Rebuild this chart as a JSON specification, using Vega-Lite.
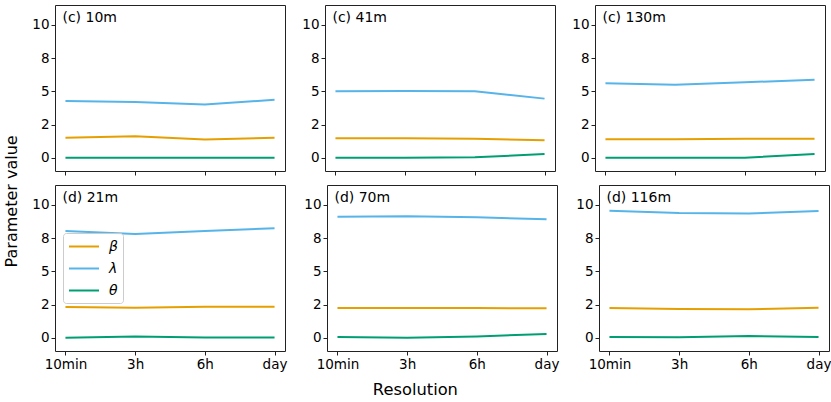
{
  "$schema": "https://vega.github.io/schema/vega-lite/v6.json",
  "padding": {"left": 4, "top": 4, "right": 2, "bottom": 2},
  "title": {"text": "Parameter value", "orient": "left", "anchor": "middle", "fontSize": 16, "fontWeight": "normal", "offset": 11, "color": "#000"},
  "datasets": {
    "params": [
      {"panel": "(c) 10m", "row": 1, "res": "10min", "param": "β", "value": 1.51},
      {"panel": "(c) 10m", "row": 1, "res": "3h", "param": "β", "value": 1.61},
      {"panel": "(c) 10m", "row": 1, "res": "6h", "param": "β", "value": 1.38},
      {"panel": "(c) 10m", "row": 1, "res": "day", "param": "β", "value": 1.51},
      {"panel": "(c) 10m", "row": 1, "res": "10min", "param": "λ", "value": 4.27},
      {"panel": "(c) 10m", "row": 1, "res": "3h", "param": "λ", "value": 4.2},
      {"panel": "(c) 10m", "row": 1, "res": "6h", "param": "λ", "value": 4.0},
      {"panel": "(c) 10m", "row": 1, "res": "day", "param": "λ", "value": 4.37},
      {"panel": "(c) 10m", "row": 1, "res": "10min", "param": "θ", "value": 0.0},
      {"panel": "(c) 10m", "row": 1, "res": "3h", "param": "θ", "value": 0.0},
      {"panel": "(c) 10m", "row": 1, "res": "6h", "param": "θ", "value": 0.0},
      {"panel": "(c) 10m", "row": 1, "res": "day", "param": "θ", "value": 0.0},
      {"panel": "(c) 41m", "row": 1, "res": "10min", "param": "β", "value": 1.46},
      {"panel": "(c) 41m", "row": 1, "res": "3h", "param": "β", "value": 1.46},
      {"panel": "(c) 41m", "row": 1, "res": "6h", "param": "β", "value": 1.42},
      {"panel": "(c) 41m", "row": 1, "res": "day", "param": "β", "value": 1.31},
      {"panel": "(c) 41m", "row": 1, "res": "10min", "param": "λ", "value": 5.0},
      {"panel": "(c) 41m", "row": 1, "res": "3h", "param": "λ", "value": 5.03},
      {"panel": "(c) 41m", "row": 1, "res": "6h", "param": "λ", "value": 5.0},
      {"panel": "(c) 41m", "row": 1, "res": "day", "param": "λ", "value": 4.45},
      {"panel": "(c) 41m", "row": 1, "res": "10min", "param": "θ", "value": 0.0},
      {"panel": "(c) 41m", "row": 1, "res": "3h", "param": "θ", "value": 0.0},
      {"panel": "(c) 41m", "row": 1, "res": "6h", "param": "θ", "value": 0.03},
      {"panel": "(c) 41m", "row": 1, "res": "day", "param": "θ", "value": 0.28},
      {"panel": "(c) 130m", "row": 1, "res": "10min", "param": "β", "value": 1.39},
      {"panel": "(c) 130m", "row": 1, "res": "3h", "param": "β", "value": 1.39},
      {"panel": "(c) 130m", "row": 1, "res": "6h", "param": "β", "value": 1.42},
      {"panel": "(c) 130m", "row": 1, "res": "day", "param": "β", "value": 1.42},
      {"panel": "(c) 130m", "row": 1, "res": "10min", "param": "λ", "value": 5.6},
      {"panel": "(c) 130m", "row": 1, "res": "3h", "param": "λ", "value": 5.5},
      {"panel": "(c) 130m", "row": 1, "res": "6h", "param": "λ", "value": 5.68},
      {"panel": "(c) 130m", "row": 1, "res": "day", "param": "λ", "value": 5.88},
      {"panel": "(c) 130m", "row": 1, "res": "10min", "param": "θ", "value": 0.0},
      {"panel": "(c) 130m", "row": 1, "res": "3h", "param": "θ", "value": 0.0},
      {"panel": "(c) 130m", "row": 1, "res": "6h", "param": "θ", "value": 0.0},
      {"panel": "(c) 130m", "row": 1, "res": "day", "param": "θ", "value": 0.28},
      {"panel": "(d) 21m", "row": 2, "res": "10min", "param": "β", "value": 2.31},
      {"panel": "(d) 21m", "row": 2, "res": "3h", "param": "β", "value": 2.26},
      {"panel": "(d) 21m", "row": 2, "res": "6h", "param": "β", "value": 2.34},
      {"panel": "(d) 21m", "row": 2, "res": "day", "param": "β", "value": 2.34},
      {"panel": "(d) 21m", "row": 2, "res": "10min", "param": "λ", "value": 8.04},
      {"panel": "(d) 21m", "row": 2, "res": "3h", "param": "λ", "value": 7.81},
      {"panel": "(d) 21m", "row": 2, "res": "6h", "param": "λ", "value": 8.04},
      {"panel": "(d) 21m", "row": 2, "res": "day", "param": "λ", "value": 8.24},
      {"panel": "(d) 21m", "row": 2, "res": "10min", "param": "θ", "value": 0.0},
      {"panel": "(d) 21m", "row": 2, "res": "3h", "param": "θ", "value": 0.1},
      {"panel": "(d) 21m", "row": 2, "res": "6h", "param": "θ", "value": 0.02},
      {"panel": "(d) 21m", "row": 2, "res": "day", "param": "θ", "value": 0.02},
      {"panel": "(d) 70m", "row": 2, "res": "10min", "param": "β", "value": 2.24},
      {"panel": "(d) 70m", "row": 2, "res": "3h", "param": "β", "value": 2.24},
      {"panel": "(d) 70m", "row": 2, "res": "6h", "param": "β", "value": 2.24},
      {"panel": "(d) 70m", "row": 2, "res": "day", "param": "β", "value": 2.21},
      {"panel": "(d) 70m", "row": 2, "res": "10min", "param": "λ", "value": 9.1},
      {"panel": "(d) 70m", "row": 2, "res": "3h", "param": "λ", "value": 9.15},
      {"panel": "(d) 70m", "row": 2, "res": "6h", "param": "λ", "value": 9.07},
      {"panel": "(d) 70m", "row": 2, "res": "day", "param": "λ", "value": 8.92},
      {"panel": "(d) 70m", "row": 2, "res": "10min", "param": "θ", "value": 0.05},
      {"panel": "(d) 70m", "row": 2, "res": "3h", "param": "θ", "value": 0.0},
      {"panel": "(d) 70m", "row": 2, "res": "6h", "param": "θ", "value": 0.1},
      {"panel": "(d) 70m", "row": 2, "res": "day", "param": "θ", "value": 0.28},
      {"panel": "(d) 116m", "row": 2, "res": "10min", "param": "β", "value": 2.24},
      {"panel": "(d) 116m", "row": 2, "res": "3h", "param": "β", "value": 2.16},
      {"panel": "(d) 116m", "row": 2, "res": "6h", "param": "β", "value": 2.14},
      {"panel": "(d) 116m", "row": 2, "res": "day", "param": "β", "value": 2.26},
      {"panel": "(d) 116m", "row": 2, "res": "10min", "param": "λ", "value": 9.57},
      {"panel": "(d) 116m", "row": 2, "res": "3h", "param": "λ", "value": 9.4},
      {"panel": "(d) 116m", "row": 2, "res": "6h", "param": "λ", "value": 9.35},
      {"panel": "(d) 116m", "row": 2, "res": "day", "param": "λ", "value": 9.55},
      {"panel": "(d) 116m", "row": 2, "res": "10min", "param": "θ", "value": 0.05},
      {"panel": "(d) 116m", "row": 2, "res": "3h", "param": "θ", "value": 0.03},
      {"panel": "(d) 116m", "row": 2, "res": "6h", "param": "θ", "value": 0.13},
      {"panel": "(d) 116m", "row": 2, "res": "day", "param": "θ", "value": 0.05}
    ]
  },
  "vconcat": [
    {
      "data": {"name": "params"},
      "transform": [{"filter": "datum.row == 1"}],
      "facet": {
        "column": {"field": "panel", "sort": ["(c) 10m", "(c) 41m", "(c) 130m"], "header": {"labels": false, "title": null}}
      },
      "spacing": 15,
      "resolve": {"axis": {"x": "independent", "y": "independent"}},
      "spec": {
        "width": 230,
        "height": 166,
        "layer": [
          {
            "mark": {"type": "line", "strokeWidth": 2},
            "encoding": {
              "x": {"field": "res", "type": "ordinal", "sort": ["10min", "3h", "6h", "day"], "scale": {"type": "point", "padding": 0.15}, "axis": {"labels": false, "title": null}},
              "y": {"field": "value", "type": "quantitative", "scale": {"domain": [-1, 11.5], "nice": false, "zero": false}, "axis": {"title": null, "values": [0, 2.5, 5, 7.5, 10], "labelExpr": "datum.value == 2.5 ? '2' : datum.value == 7.5 ? '8' : datum.label"}},
              "color": {
                "field": "param", "type": "nominal",
                "scale": {"domain": ["β", "λ", "θ"], "range": ["#E69F00", "#56B4E9", "#009E73"]},
                "legend": {"orient": "none", "legendX": 8, "legendY": 228, "title": null, "symbolType": "M-1,0L3,0", "symbolSize": 225, "symbolStrokeWidth": 2, "labelFontSize": 14, "labelFontStyle": "italic", "labelColor": "#000", "labelOffset": 24, "rowPadding": 6, "padding": 5, "strokeColor": "#cccccc", "cornerRadius": 3, "fillColor": "rgba(255,255,255,0.8)"}
              }
            }
          },
          {
            "transform": [{"filter": "datum.res == '10min' && datum.param == 'β'"}],
            "mark": {"type": "text", "align": "left", "baseline": "top", "dx": -3, "dy": 6, "fontSize": 14, "color": "#000"},
            "encoding": {
              "x": {"datum": "10min"},
              "y": {"datum": 11.5},
              "text": {"field": "panel"}
            }
          }
        ]
      }
    },
    {
      "data": {"name": "params"},
      "transform": [{"filter": "datum.row == 2"}],
      "title": {"text": "Resolution", "orient": "bottom", "anchor": "middle", "fontSize": 16.3, "fontWeight": "normal", "offset": 11, "dx": -16, "color": "#000"},
      "facet": {
        "column": {"field": "panel", "sort": ["(d) 21m", "(d) 70m", "(d) 116m"], "header": {"labels": false, "title": null}}
      },
      "spacing": 15,
      "resolve": {"axis": {"x": "independent", "y": "independent"}},
      "spec": {
        "width": 230,
        "height": 166,
        "layer": [
          {
            "mark": {"type": "line", "strokeWidth": 2},
            "encoding": {
              "x": {"field": "res", "type": "ordinal", "sort": ["10min", "3h", "6h", "day"], "scale": {"type": "point", "padding": 0.15}, "axis": {"title": null, "labelAngle": 0}},
              "y": {"field": "value", "type": "quantitative", "scale": {"domain": [-1, 11.5], "nice": false, "zero": false}, "axis": {"title": null, "values": [0, 2.5, 5, 7.5, 10], "labelExpr": "datum.value == 2.5 ? '2' : datum.value == 7.5 ? '8' : datum.label"}},
              "color": {"field": "param", "type": "nominal", "scale": {"domain": ["β", "λ", "θ"], "range": ["#E69F00", "#56B4E9", "#009E73"]}}
            }
          },
          {
            "transform": [{"filter": "datum.res == '10min' && datum.param == 'β'"}],
            "mark": {"type": "text", "align": "left", "baseline": "top", "dx": -3, "dy": 6, "fontSize": 14, "color": "#000"},
            "encoding": {
              "x": {"datum": "10min"},
              "y": {"datum": 11.5},
              "text": {"field": "panel"}
            }
          }
        ]
      }
    }
  ],
  "spacing": 8,
  "config": {
    "font": "DejaVu Sans",
    "view": {"stroke": "#222", "strokeWidth": 1},
    "axis": {"domain": false, "grid": false, "ticks": true, "tickSize": 4, "tickColor": "#222", "labelFontSize": 13.5, "labelColor": "#000", "labelPadding": 2}
  }
}
